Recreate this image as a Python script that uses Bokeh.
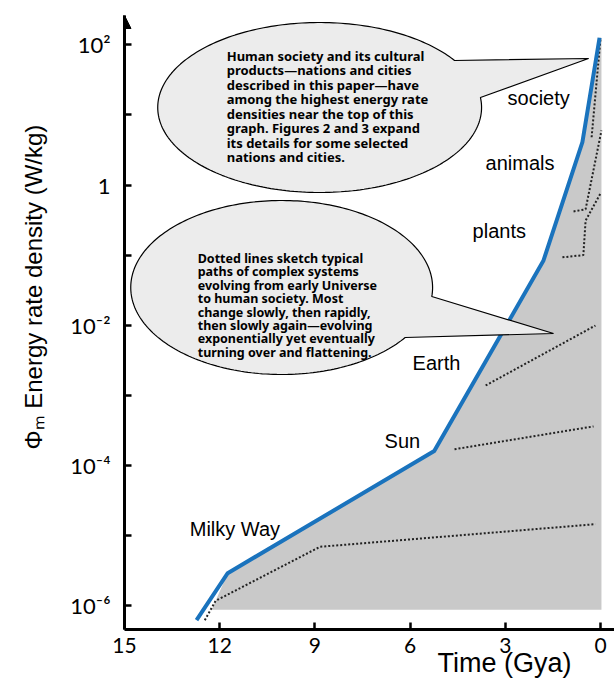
import numpy as np
from bokeh.plotting import figure
from bokeh.models import Range1d, FixedTicker, CustomJSTickFormatter, Arrow, NormalHead
from bokeh.embed import file_html
from bokeh.resources import INLINE
from bokeh.core.properties import value

# ---------------- data (time in Gya, energy rate density in W/kg) ----------------
blue_time = [12.73, 11.75, 5.24, 1.80, 0.57, 0.03]
blue_phi = [6.2e-7, 2.9e-6, 1.6e-4, 8.3e-2, 4.1, 126.0]

floor_phi = 8.7e-7          # bottom of the shaded region
shade_left_time = 12.25     # where the shaded region meets the floor
shade_right_time = -0.03    # right edge of the shaded region

milky_time = [12.47, 12.13, 8.84, 0.16]
milky_phi = [6.2e-7, 1.17e-6, 6.9e-6, 1.45e-5]
sun_time = [4.60, 0.22]
sun_phi = [1.7e-4, 3.6e-4]
earth_time = [3.62, 0.16]
earth_phi = [1.38e-3, 9.9e-3]
plants_time = [1.20, 0.54, 0.47, 0.0]
plants_phi = [0.093, 0.10, 0.31, 0.76]
animals_time = [0.85, 0.47, -0.03]
animals_phi = [0.42, 0.45, 6.0]
society_time = [0.28, 0.0]
society_phi = [4.8, 123.0]

x_ticks = [15, 12, 9, 6, 3, 0]
y_ticks = [1e-6, 1e-5, 1e-4, 1e-3, 1e-2, 1e-1, 1.0, 10.0, 100.0]

stage_names = ["Milky Way", "Sun", "Earth", "plants", "animals", "society"]

bubble1_lines = ["Human society and its cultural",
                 "products\u2014nations and cities",
                 "described in this paper\u2014have",
                 "among the highest energy rate",
                 "densities near the top of this",
                 "graph. Figures 2 and 3 expand",
                 "its details for some selected",
                 "nations and cities."]
bubble2_lines = ["Dotted lines sketch typical",
                 "paths of complex systems",
                 "evolving from early Universe",
                 "to human society. Most",
                 "change slowly, then rapidly,",
                 "then slowly again\u2014evolving",
                 "exponentially yet eventually",
                 "turning over and flattening."]

x_title = "Time (Gya)"
y_title = "\u03a6\u2098  Energy rate density  (W/kg)"

# ---------------- layout helpers (page pixel -> data) ----------------
def X(px):
    return (600.0 - px) / 31.75

def Y(py):
    return 10 ** (2.0 - (py - 44.3) / 70.1)

BLUE = "#1a73bd"
GRAY = "#c9c9c9"

p = figure(width=614, height=686, output_backend="svg", toolbar_location=None,
           x_range=Range1d(15, X(614)), y_range=Range1d(Y(629), Y(15)),
           y_axis_type="log",
           min_border_left=124, min_border_right=0, min_border_top=15, min_border_bottom=57)
p.outline_line_color = None
p.xgrid.visible = False
p.ygrid.visible = False
p.background_fill_color = "white"

# ---------------- axes ----------------
for ax in (p.xaxis[0], p.yaxis[0]):
    ax.axis_line_width = 3
    ax.axis_line_color = "black"
    ax.major_tick_line_width = 2.5
    ax.major_tick_in = 7
    ax.major_tick_out = 0
    ax.minor_tick_line_color = None
    ax.major_label_text_font = "Lato"
    ax.major_label_text_color = "black"
    ax.axis_label_text_font = "Liberation Sans"
    ax.axis_label_text_font_style = "normal"
    ax.axis_label_text_color = "black"

p.xaxis.ticker = FixedTicker(ticks=x_ticks)
p.xaxis.major_label_text_font_size = "21px"
p.xaxis.major_label_standoff = 8
# em spaces shift the centred title to the right, as in the original
p.xaxis.axis_label = "\u2003" * 10 + x_title
p.xaxis.axis_label_text_font_size = "27px"
p.xaxis.axis_label_standoff = -8

p.yaxis.ticker = FixedTicker(ticks=y_ticks)
p.yaxis.major_label_text_font_size = "22px"
p.yaxis.major_label_standoff = 14
p.yaxis.formatter = CustomJSTickFormatter(code="""
const e = Math.round(Math.log10(tick));
if (e % 2 != 0) return "";
if (e == 0) return "1";
const sup = {"-":"\u207b","0":"\u2070","1":"\u00b9","2":"\u00b2","3":"\u00b3","4":"\u2074","5":"\u2075","6":"\u2076","7":"\u2077","8":"\u2078","9":"\u2079"};
return "10" + String(e).split("").map(c => sup[c]).join("");
""")
p.yaxis.axis_label = "\u2003\u2003\u2003\u2002" + y_title
p.yaxis.axis_label_text_font_size = "24px"
p.yaxis.axis_label_standoff = 20

p.add_layout(Arrow(end=NormalHead(size=13, fill_color="black", line_color="black", line_width=1),
                   x_start=15, y_start=Y(45), x_end=15, y_end=Y(15),
                   line_width=3, line_color="black"))

# ---------------- shaded region and main curve ----------------
shade_x = [shade_left_time] + blue_time[1:] + [shade_right_time, shade_right_time]
shade_y = [floor_phi] + blue_phi[1:] + [blue_phi[-1], floor_phi]
p.patch(shade_x, shade_y, fill_color=GRAY, line_color=None)

for tx, ty in [(milky_time, milky_phi), (sun_time, sun_phi), (earth_time, earth_phi),
               (plants_time, plants_phi), (animals_time, animals_phi),
               (society_time, society_phi)]:
    p.line(tx, ty, line_color="#222222", line_width=2, line_dash="2 2")

p.line(blue_time, blue_phi, line_color=BLUE, line_width=4, line_join="miter")

# ---------------- speech bubbles ----------------
def bubble(cx, cy, a, b, y_up, y_low, tip):
    tu = np.arcsin((cy - y_up) / b)
    tl = np.arcsin((cy - y_low) / b)
    th = np.linspace(tu, tl + 2 * np.pi, 240)
    xs = list(cx + a * np.cos(th)) + [tip[0], cx + a * np.cos(tu)]
    ys = list(cy - b * np.sin(th)) + [tip[1], cy - b * np.sin(tu)]
    return [X(v) for v in xs], [Y(v) for v in ys]

for geo in [(319, 107, 162, 85, 60, 97, (588, 58)),
            (281, 287, 151, 87, 296, 337, (553, 333))]:
    bx, by = bubble(*geo)
    p.patch(bx, by, fill_color="#ececec", line_color="black", line_width=1.2)

p.text(x=[X(226)] * len(bubble1_lines), y=[Y(55 + 14.5 * i) for i in range(len(bubble1_lines))],
       text=bubble1_lines, text_font=value("Noto Sans"), text_font_style="bold",
       text_font_size="13px", text_baseline="middle", text_align="left", text_color="black")
p.text(x=[X(197)] * len(bubble2_lines), y=[Y(258 + 13.4 * i) for i in range(len(bubble2_lines))],
       text=bubble2_lines, text_font=value("Noto Sans"), text_font_style="bold",
       text_font_size="12.5px", text_baseline="middle", text_align="left", text_color="black")

# ---------------- stage labels ----------------
stage_px = [(189, 528), (384, 440), (412, 362), (472, 230), (485, 162), (507, 97)]
p.text(x=[X(a) for a, b in stage_px], y=[Y(b) for a, b in stage_px], text=stage_names,
       text_font=value("Liberation Sans"), text_font_size="20px",
       text_baseline="middle", text_align="left", text_color="black")

open("out.html", "w").write(file_html(p, INLINE))
